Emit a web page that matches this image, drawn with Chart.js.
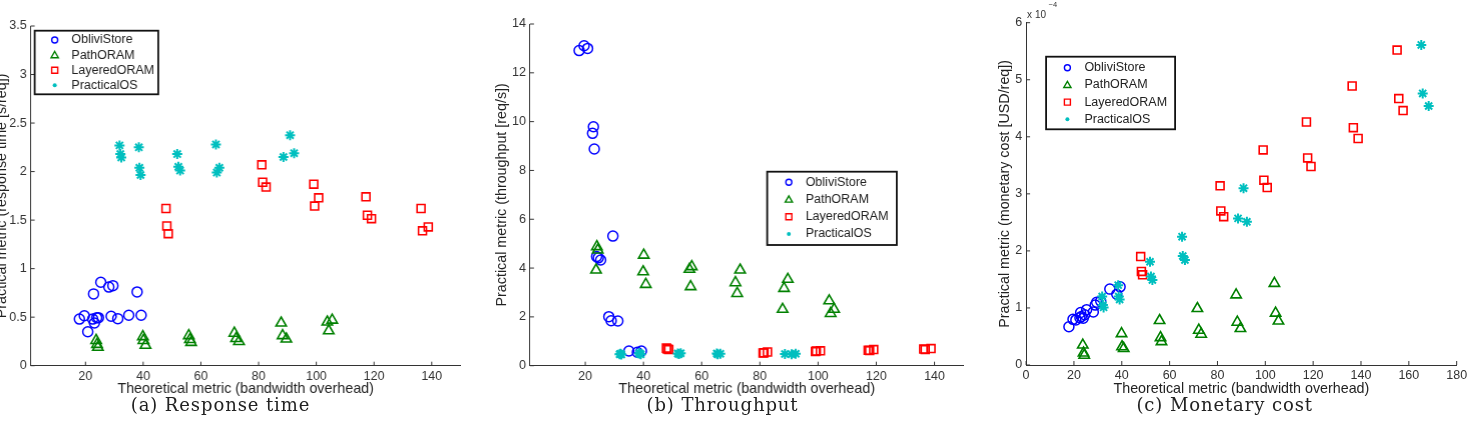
<!DOCTYPE html>
<html>
<head>
<meta charset="utf-8">
<script src="https://cdn.jsdelivr.net/npm/chart.js@4.4.1/dist/chart.umd.min.js"></script>
<style>
  html, body { margin: 0; padding: 0; background: #fff; width: 1470px; height: 426px; overflow: hidden; }
  body { position: relative; }
  .plot { position: absolute; top: 0; height: 426px; }
  .cap { position: absolute; top: 394px; font-family: "DejaVu Serif", serif; font-size: 18px; line-height: 21px;
         letter-spacing: 0.9px; color: #222; transform: translateX(-50%); white-space: nowrap; }
</style>
</head>
<body>
<div class="plot" id="boxA" style="left:-6.6px;width:496.6px"><canvas id="chartA"></canvas></div>
<div class="plot" id="boxB" style="left:493.1px;width:486.9px"><canvas id="chartB"></canvas></div>
<div class="plot" id="boxC" style="left:995.9px;width:474.1px"><canvas id="chartC"></canvas></div>
<div class="cap" style="left:220.5px">(a) Response time</div>
<div class="cap" style="left:722.5px">(b) Throughput</div>
<div class="cap" style="left:1224.7px">(c) Monetary cost</div>

<script>
// series names
const methods = ['ObliviStore', 'PathORAM', 'LayeredORAM', 'PracticalOS'];

// theoretical metric (bandwidth overhead), shared by the three plots
const obliviX = [17.9, 19.6, 20.8, 22.8, 22.5, 23.1, 23.9, 24.5, 25.3, 28.1, 29.5, 28.9, 31.2, 35.0, 37.9, 39.3];
const pathX = [23.7, 24.0, 24.3, 39.9, 40.1, 40.8, 55.8, 56.2, 56.6, 71.6, 72.2, 73.2, 87.8, 88.3, 89.6, 103.8, 104.3, 105.5];
const layeredX = [47.9, 48.2, 48.7, 81.1, 81.4, 82.6, 99.1, 99.4, 100.8, 117.2, 117.7, 119.1, 136.3, 136.8, 138.8, 155.1, 155.8, 157.6];
const practicalX = [31.8, 32.1, 32.4, 38.5, 38.7, 39.1, 51.8, 52.2, 52.8, 65.2, 65.5, 66.4, 88.6, 90.9, 92.3, 165.2, 165.8, 168.3];

// (a) response time [s/req]
const obliviResp = [0.48, 0.515, 0.35, 0.74, 0.48, 0.44, 0.495, 0.495, 0.86, 0.81, 0.825, 0.51, 0.485, 0.52, 0.76, 0.52];
const pathResp = [0.26, 0.22, 0.19, 0.30, 0.26, 0.21, 0.31, 0.27, 0.24, 0.335, 0.28, 0.25, 0.44, 0.31, 0.275, 0.45, 0.36, 0.47];
const layeredResp = [1.62, 1.44, 1.36, 2.07, 1.89, 1.84, 1.87, 1.645, 1.73, 1.74, 1.55, 1.515, 1.62, 1.39, 1.43];
const practicalResp = [2.27, 2.18, 2.145, 2.25, 2.04, 1.965, 2.18, 2.05, 2.01, 2.28, 1.99, 2.04, 2.15, 2.375, 2.19];

// (b) throughput [req/s]
const obliviThru = [12.91, 13.11, 13.0, 9.79, 9.52, 8.88, 4.47, 4.42, 4.33, 2.01, 5.31, 1.84, 1.83, 0.60, 0.55, 0.60];
const pathThru = [3.92, 4.88, 4.74, 3.85, 4.53, 3.33, 3.95, 3.24, 4.06, 3.40, 2.96, 3.92, 2.31, 3.17, 3.54, 2.66, 2.14, 2.31];
const layeredThru = [0.72, 0.68, 0.66, 0.52, 0.53, 0.56, 0.58, 0.60, 0.61, 0.63, 0.62, 0.66, 0.68, 0.66, 0.70];
const practicalThru = [0.47, 0.49, 0.46, 0.52, 0.49, 0.47, 0.50, 0.48, 0.51, 0.50, 0.47, 0.49, 0.48, 0.47, 0.49];

// (c) monetary cost [USD/req], in units of 1e-4
const obliviCost = [0.67, 0.80, 0.79, 0.92, 0.83, 0.85, 0.82, 0.88, 0.97, 0.93, 1.10, 1.05, 1.12, 1.33, 1.24, 1.37];
const pathCost = [0.35, 0.21, 0.17, 0.55, 0.32, 0.29, 0.78, 0.48, 0.41, 0.99, 0.61, 0.54, 1.23, 0.75, 0.64, 1.43, 0.91, 0.77];
const layeredCost = [1.90, 1.64, 1.58, 3.14, 2.70, 2.60, 3.77, 3.24, 3.11, 4.26, 3.63, 3.48, 4.89, 4.16, 3.97, 5.52, 4.67, 4.46];
const practicalCost = [1.20, 1.05, 1.01, 1.40, 1.20, 1.15, 1.81, 1.55, 1.49, 2.25, 1.91, 1.84, 2.57, 3.10, 2.51, 5.61, 4.76, 4.54];

// tick labels
const xTicksAB = [20, 40, 60, 80, 100, 120, 140];
const xTicksC = [0, 20, 40, 60, 80, 100, 120, 140, 160, 180];
const yTicksA = [0, 0.5, 1, 1.5, 2, 2.5, 3, 3.5];
const yTicksB = [0, 2, 4, 6, 8, 10, 12, 14];
const yTicksC = [0, 1, 2, 3, 4, 5, 6];

const FONT = 'Liberation Sans';
Chart.defaults.font.family = FONT;
Chart.defaults.color = '#333';

const styles = [
    { pointStyle: 'circle', pointRadius: 5, borderColor: '#0000ff', borderWidth: 1.5 },
    { pointStyle: 'triangle', pointRadius: 6, borderColor: '#008000', borderWidth: 1.6 },
    { pointStyle: 'rect', pointRadius: 5.6, borderColor: '#ff0000', borderWidth: 1.6 },
    { pointStyle: 'star', pointRadius: 5, borderColor: '#00bfbf', borderWidth: 2 }
];

function zip(xs, ys) {
    return ys.map((y, i) => ({ x: xs[i], y: y }));
}

// small legend marker, like the MATLAB legend
function legendMarker(ctx, i, x, y, color) {
    ctx.save();
    ctx.strokeStyle = color;
    ctx.fillStyle = color;
    ctx.lineWidth = 1.4;
    ctx.beginPath();
    if (i === 0) {
        ctx.arc(x, y, 3, 0, Math.PI * 2);
        ctx.stroke();
    } else if (i === 1) {
        ctx.moveTo(x, y - 3.6);
        ctx.lineTo(x + 3.6, y + 2.6);
        ctx.lineTo(x - 3.6, y + 2.6);
        ctx.closePath();
        ctx.stroke();
    } else if (i === 2) {
        ctx.rect(x - 3, y - 3, 6, 6);
        ctx.stroke();
    } else {
        ctx.arc(x, y, 2, 0, Math.PI * 2);
        ctx.fill();
    }
    ctx.restore();
}

const matlabFrame = {
    id: 'matlabFrame',
    afterDraw(chart, args, opts) {
        const ctx = chart.ctx;
        const xs = chart.scales.x;
        const ys = chart.scales.y;
        const area = chart.chartArea;
        ctx.save();
        // inward ticks
        ctx.strokeStyle = '#333';
        ctx.lineWidth = 1;
        ctx.beginPath();
        xs.ticks.forEach(t => {
            const p = xs.getPixelForValue(t.value);
            ctx.moveTo(p, area.bottom);
            ctx.lineTo(p, area.bottom - 4);
        });
        ys.ticks.forEach(t => {
            const p = ys.getPixelForValue(t.value);
            ctx.moveTo(area.left, p);
            ctx.lineTo(area.left + 4, p);
        });
        ctx.stroke();

        // legend box
        const L = opts.legend;
        const bx = area.left + L.left;
        const by = area.top + L.top;
        ctx.fillStyle = '#fff';
        ctx.fillRect(bx, by, L.w, L.h);
        ctx.strokeStyle = '#111';
        ctx.lineWidth = 1.8;
        ctx.strokeRect(bx, by, L.w, L.h);
        ctx.font = '12.5px "' + FONT + '"';
        ctx.textBaseline = 'middle';
        ctx.textAlign = 'left';
        chart.data.datasets.forEach((ds, i) => {
            const yy = by + L.row0 + i * L.step;
            legendMarker(ctx, i, bx + L.markX, yy, ds.borderColor);
            ctx.fillStyle = '#222';
            ctx.fillText(ds.label, bx + L.textX, yy);
        });

        // exponent label
        if (opts.exponent) {
            ctx.fillStyle = '#333';
            ctx.textBaseline = 'alphabetic';
            ctx.font = '10px "' + FONT + '"';
            ctx.fillText('x 10', area.left + 1, area.top - 4.5);
            ctx.font = '7.5px "' + FONT + '"';
            ctx.fillText('\u22124', area.left + 22.5, area.top - 15.5);
        }
        ctx.restore();
    }
};

function makeChart(id, cfg) {
    // later series are drawn on top, as in the original figure
    const datasets = methods.map((name, i) => Object.assign({
        label: name,
        data: zip(cfg.xs[i], cfg.ys[i]),
        backgroundColor: 'rgba(0,0,0,0)',
        pointHoverRadius: 0,
        order: methods.length - i
    }, styles[i]));

    return new Chart(document.getElementById(id), {
        type: 'scatter',
        data: { datasets: datasets },
        plugins: [matlabFrame],
        options: {
            responsive: true,
            maintainAspectRatio: false,
            animation: false,
            events: [],
            layout: { padding: { top: cfg.top, right: cfg.right, bottom: 0, left: 0 } },
            plugins: {
                legend: { display: false },
                tooltip: { enabled: false },
                matlabFrame: { legend: cfg.legend, exponent: cfg.exponent }
            },
            scales: {
                x: {
                    type: 'linear',
                    min: cfg.xMin,
                    max: cfg.xMax,
                    afterBuildTicks: s => { s.ticks = cfg.xTicks.map(v => ({ value: v })); },
                    afterFit: s => { s.height = cfg.xHeight; },
                    grid: { display: false, drawTicks: false },
                    border: { display: true, color: '#333', width: 1 },
                    ticks: { autoSkip: false, maxRotation: 0, padding: 3, font: { size: 12.5 }, color: '#333',
                             callback: v => String(v) },
                    title: { display: true, text: 'Theoretical metric (bandwidth overhead)', color: '#222',
                             font: { size: 14.3 }, padding: { top: 0, bottom: 28 } }
                },
                y: {
                    type: 'linear',
                    min: cfg.yMin,
                    max: cfg.yMax,
                    afterBuildTicks: s => { s.ticks = cfg.yTicks.map(v => ({ value: v })); },
                    afterFit: s => { s.width = cfg.yWidth; },
                    grid: { display: false, drawTicks: false },
                    border: { display: true, color: '#333', width: 1 },
                    ticks: { autoSkip: false, padding: 4, font: { size: 12.5 }, color: '#333',
                             callback: v => String(v) },
                    title: { display: true, text: cfg.yTitle, color: '#222',
                             font: { size: 14.3 }, padding: { top: 0, bottom: 0 } }
                }
            }
        }
    });
}

makeChart('chartA', {
    xs: [obliviX, pathX, layeredX, practicalX],
    ys: [obliviResp, pathResp, layeredResp, practicalResp],
    xMin: 1, xMax: 150, xTicks: xTicksAB,
    yMin: 0, yMax: 3.5, yTicks: yTicksA,
    yTitle: 'Practical metric (response time [s/req])',
    top: 26, right: 30, xHeight: 60.3, yWidth: 37.6,
    legend: { left: 4, top: 4.7, w: 123.3, h: 63.6, row0: 9.3, step: 15.1, markX: 20, textX: 36.7 }
});

makeChart('chartB', {
    xs: [obliviX, pathX, layeredX, practicalX],
    ys: [obliviThru, pathThru, layeredThru, practicalThru],
    xMin: 1, xMax: 150, xTicks: xTicksAB,
    yMin: 0, yMax: 14, yTicks: yTicksB,
    yTitle: 'Practical metric (throughput [req/s])',
    top: 24, right: 17.3, xHeight: 60.3, yWidth: 36.9,
    legend: { left: 236.7, top: 147.7, w: 129.3, h: 73.3, row0: 10.6, step: 17.2, markX: 21.6, textX: 38.3 }
});

makeChart('chartC', {
    xs: [obliviX, pathX, layeredX, practicalX],
    ys: [obliviCost, pathCost, layeredCost, practicalCost],
    xMin: 0, xMax: 180, xTicks: xTicksC,
    yMin: 0, yMax: 6, yTicks: yTicksC,
    yTitle: 'Practical metric (monetary cost [USD/req])',
    top: 22.7, right: 10, xHeight: 61, yWidth: 30.1,
    legend: { left: 20, top: 34, w: 129, h: 72.6, row0: 11, step: 17.2, markX: 21.3, textX: 38.3 },
    exponent: true
});
</script>
</body>
</html>
